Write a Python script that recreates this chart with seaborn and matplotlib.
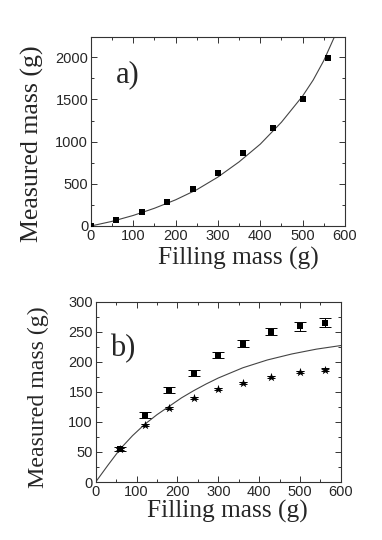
import numpy as np
import pandas as pd
import matplotlib
matplotlib.use("Agg")
import matplotlib.pyplot as plt
from matplotlib.ticker import MultipleLocator
import seaborn as sns

# ---- data ----
a_fill = [0, 60, 120, 180, 240, 300, 360, 430, 500, 560]
a_meas = [5, 70, 170, 290, 440, 630, 860, 1160, 1510, 1990]
a_fit_x = [0, 50, 100, 150, 200, 250, 300, 350, 400, 450, 500, 525, 550, 575]
a_fit_y = [0, 55, 125, 210, 310, 430, 580, 760, 970, 1230, 1540, 1730, 1960, 2240]

b_fill = [60, 120, 180, 240, 300, 360, 430, 500, 560]
b_sq = [55, 112, 153, 182, 211, 230, 250, 259, 265]
b_sq_err = [4, 5, 5, 5, 5, 6, 6, 7, 7]
b_star = [55, 95, 123, 140, 155, 165, 175, 183, 187]
b_star_err = [2, 2, 2, 2, 2, 2, 2, 2, 2]
b_fit_x = [0, 30, 60, 90, 120, 150, 180, 210, 240, 270, 300, 360, 420, 480, 540, 600]
b_fit_y = [0, 28, 55, 77, 96, 112, 126, 140, 152, 163, 173, 190, 203, 213, 221, 227]

x_ticks = [0, 100, 200, 300, 400, 500, 600]

sns.set_style("ticks")
plt.rcParams["font.family"] = ["Liberation Sans", "DejaVu Sans"]

fig = plt.figure(figsize=(3.82, 5.40), dpi=100)
ax1 = fig.add_axes([0.238, 0.5815, 0.665, 0.35])
ax2 = fig.add_axes([0.2505, 0.1074, 0.642, 0.334])

serif = ["Liberation Serif", "DejaVu Serif"]

# panel a
sns.lineplot(x=a_fit_x, y=a_fit_y, ax=ax1, color="#444444", lw=0.8, sort=True)
sns.scatterplot(x=a_fill, y=a_meas, ax=ax1, marker="s", s=16, color="black",
                edgecolor="black", linewidth=0, zorder=3)
ax1.set_xlim(0, 600)
ax1.set_ylim(0, 2240)
ax1.set_xticks(x_ticks)
ax1.set_yticks([0, 500, 1000, 1500, 2000])
ax1.xaxis.set_minor_locator(MultipleLocator(50))
ax1.yaxis.set_minor_locator(MultipleLocator(250))
ax1.text(0.10, 0.80, "a)", transform=ax1.transAxes, fontsize=22,
         family=serif, va="center", ha="left")

# panel b
sns.lineplot(x=b_fit_x, y=b_fit_y, ax=ax2, color="#444444", lw=0.8, sort=True)
ax2.errorbar(b_fill, b_sq, yerr=b_sq_err, fmt="none", ecolor="black",
             elinewidth=0.7, capsize=4, capthick=0.7, zorder=2)
ax2.errorbar(b_fill, b_star, yerr=b_star_err, fmt="none", ecolor="black",
             elinewidth=0.7, capsize=3, capthick=0.7, zorder=2)
sns.scatterplot(x=b_fill, y=b_sq, ax=ax2, marker="s", s=13, color="black",
                linewidth=0, zorder=3)
sns.scatterplot(x=b_fill, y=b_star, ax=ax2, marker="*", s=45, color="black",
                linewidth=0, zorder=3)
ax2.set_xlim(0, 600)
ax2.set_ylim(0, 300)
ax2.set_xticks(x_ticks)
ax2.set_yticks([0, 50, 100, 150, 200, 250, 300])
ax2.xaxis.set_minor_locator(MultipleLocator(50))
ax2.yaxis.set_minor_locator(MultipleLocator(25))
ax2.text(0.058, 0.74, "b)", transform=ax2.transAxes, fontsize=22,
         family=serif, va="center", ha="left")

for ax in (ax1, ax2):
    for sp in ax.spines.values():
        sp.set_visible(True)
        sp.set_linewidth(0.8)
        sp.set_color("#333333")
    ax.tick_params(which="both", direction="in", top=True, right=True,
                   labelsize=10.5, width=0.7, color="#333333", pad=2)
    ax.tick_params(which="major", length=4)
    ax.tick_params(which="minor", length=2.5)

ax1.set_xlabel("Filling mass (g)", family=serif, fontsize=18.3)
ax1.set_ylabel("Measured mass (g)", family=serif, fontsize=18.6)
ax2.set_xlabel("Filling mass (g)", family=serif, fontsize=18.3)
ax2.set_ylabel("Measured mass (g)", family=serif, fontsize=17.2)
ax1.xaxis.set_label_coords(0.579, -0.112)
ax1.yaxis.set_label_coords(-0.184, 0.4365)
ax2.xaxis.set_label_coords(0.535, -0.100)
ax2.yaxis.set_label_coords(-0.191, 0.469)

fig.savefig("out.png", dpi=100)
